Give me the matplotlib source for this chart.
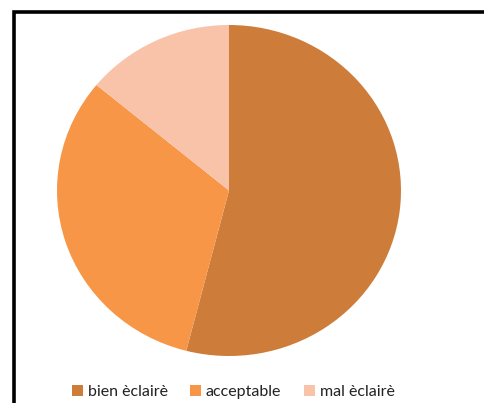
import matplotlib
matplotlib.use("Agg")
import matplotlib.pyplot as plt
from matplotlib.patches import Patch
from matplotlib.lines import Line2D

labels = ["bien èclairè", "acceptable", "mal èclairè"]
values = [54, 32, 14]
colors = ["#CD7C3A", "#F79646", "#F9C3A9"]

W, H = 484, 403
fig = plt.figure(figsize=(W / 100, H / 100), dpi=100)
fig.patch.set_facecolor("white")

# frame lines (top and left)
fig.add_artist(Line2D([13.5 / W, 13.5 / W, 1.0], [0.0, 1 - 11.5 / H, 1 - 11.5 / H],
                      transform=fig.transFigure, color="black", lw=2.6,
                      solid_joinstyle="miter", solid_capstyle="butt"))

ax = fig.add_axes([57 / W, (H - 356) / H, 344 / W, 331 / H])
ax.pie(values, colors=colors, startangle=90, counterclock=False,
       wedgeprops=dict(linewidth=0))
ax.set_aspect("auto")
ax.set_xlim(-1, 1)
ax.set_ylim(-1, 1)
ax.axis("off")

handles = [Patch(facecolor=c, edgecolor="none") for c in colors]
fig.legend(handles, labels, loc="center", bbox_to_anchor=(233 / W, 1 - 392 / H),
           ncol=3, frameon=False, prop={"family": "Lato", "size": 11.5},
           handlelength=0.7, handleheight=0.7, handletextpad=0.3,
           columnspacing=1.4, labelcolor="#222222")

fig.savefig("out.png", dpi=100)
